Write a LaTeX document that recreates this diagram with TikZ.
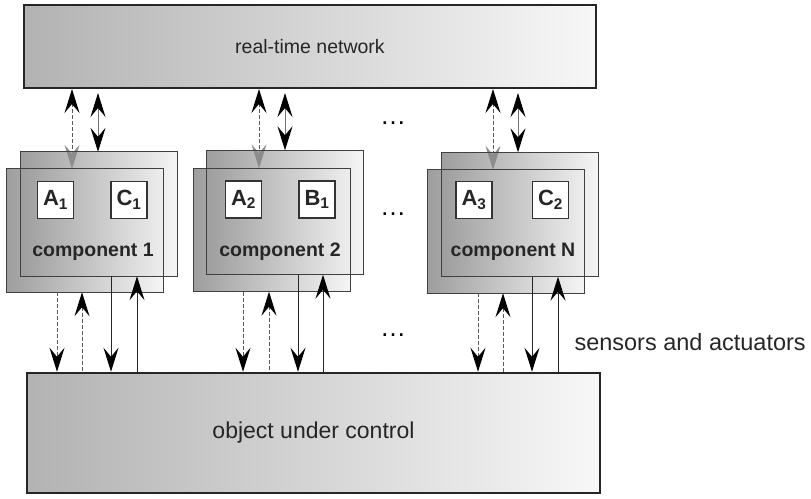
\documentclass[tikz,border=0pt]{standalone}
\usepackage{fontspec}
\setmainfont{Liberation Sans}
\usetikzlibrary{arrows.meta}

\tikzset{
	headtip/.tip={Stealth[length=24pt,width=15pt,inset=9pt,color=black]},
	greytip/.tip={Stealth[length=24pt,width=15pt,inset=9pt,color=black!45]},
	bigbox/.style={draw=black!85, line width=2pt, left color=black!30, right color=black!3, inner sep=0pt, text=black!85},
	compshade/.style={left color=black!38, right color=black!4, minimum width=156pt, minimum height=123pt, inner sep=0pt},
	compline/.style={draw=black!75, line width=1.2pt},
	funcbox/.style={draw=black!80, line width=1.2pt, fill=white, minimum width=36pt, minimum height=37pt, inner sep=0pt, font=\fontsize{22}{22}\selectfont\bfseries, text=black!85},
	comptext/.style={font=\fontsize{19.5}{20}\selectfont\bfseries, text=black!85},
	dsh/.style={dash pattern=on 4pt off 2pt, line width=1pt, black!65},
	sol/.style={line width=1pt, black!85},
}

\begin{document}
\begin{tikzpicture}[x=1pt, y=-1pt]
		\useasboundingbox (0,0) rectangle (811,498);
		\node[bigbox, minimum width=572pt, minimum height=83pt] (net) at (310,46.5) {\fontsize{19.5}{20}\selectfont real-time network};
		\node[bigbox, line width=2.5pt, minimum width=573pt, minimum height=120pt] (plant) at (313.5,433) {\fontsize{23}{24}\selectfont object under control};
		\node[anchor=west, text=black!85] (sensact) at (571,342) {\fontsize{23.5}{24}\selectfont sensors and actuators};
		%
		\path (72,0) coordinate (c1t1) (98,0) coordinate (c1t2) (57,0) coordinate (c1d1) (82,0) coordinate (c1d2) (111,0) coordinate (c1s1) (137,0) coordinate (c1s2);
		\path (259,0) coordinate (c2t1) (285,0) coordinate (c2t2) (243,0) coordinate (c2d1) (269,0) coordinate (c2d2) (298,0) coordinate (c2s1) (323,0) coordinate (c2s2);
		\path (493,0) coordinate (cnt1) (518,0) coordinate (cnt2) (478,0) coordinate (cnd1) (503,0) coordinate (cnd2) (532,0) coordinate (cns1) (558,0) coordinate (cns2);
		%
		\node[compshade] (c1b) at (85,230.5) {};
		\node[compshade] (c2b) at (272,230) {};
		\node[compshade] (cnb) at (506,231.5) {};
		\draw[dsh,headtip-] (c1t1 |- net.south) -- (c1t1 |- c1b.north);
		\draw[dsh,headtip-] (c2t1 |- net.south) -- (c2t1 |- c2b.north);
		\draw[dsh,headtip-] (cnt1 |- net.south) -- (cnt1 |- cnb.north);
		\node[compshade, minimum height=124pt] (c1a) at (99,214) {};
		\node[compshade, minimum height=124pt] (c2a) at (285,212.5) {};
		\node[compshade, minimum height=124pt] (cna) at (520,214.5) {};
		\draw[dsh, black!45, -greytip] (c1t1 |- c1a.north) -- (c1t1 |- c1b.north);
		\draw[dsh, black!45, -greytip] (c2t1 |- c2a.north) -- (c2t1 |- c2b.north);
		\draw[dsh, black!45, -greytip] (cnt1 |- cna.north) -- (cnt1 |- cnb.north);
		\draw[compline] (c1b.north west) rectangle (c1b.south east) (c1a.north west) rectangle (c1a.south east);
		\draw[compline] (c2b.north west) rectangle (c2b.south east) (c2a.north west) rectangle (c2a.south east);
		\draw[compline] (cnb.north west) rectangle (cnb.south east) (cna.north west) rectangle (cna.south east);
		%
		\node[funcbox] (fa1) at (55.5,200) {A\textsubscript{1}};
		\node[funcbox] (fc1) at (129,200) {C\textsubscript{1}};
		\node[comptext] (lab1) at (93,252) {component 1};
		\node[funcbox] (fa2) at (243.5,199.5) {A\textsubscript{2}};
		\node[funcbox] (fb1) at (317,199.5) {B\textsubscript{1}};
		\node[comptext] (lab2) at (280,252) {component 2};
		\node[funcbox] (fa3) at (474,200) {A\textsubscript{3}};
		\node[funcbox] (fc2) at (550.5,200) {C\textsubscript{2}};
		\node[comptext] (labn) at (513,252) {component N};
		%
		\draw[black!55, line width=1pt, headtip-headtip, shorten <=4pt] (c1t2 |- net.south) -- (c1t2 |- c1a.north);
		\draw[black!55, line width=1pt, headtip-headtip, shorten <=4pt] (c2t2 |- net.south) -- (c2t2 |- c2a.north);
		\draw[black!55, line width=1pt, headtip-headtip, shorten <=4pt] (cnt2 |- net.south) -- (cnt2 |- cna.north);
		%
		\draw[dsh,-headtip] (c1d1 |- c1b.south) -- (c1d1 |- plant.north);
		\draw[dsh,headtip-] (c1d2 |- c1b.south) -- (c1d2 |- plant.north);
		\draw[sol,-headtip] (c1s1 |- c1a.south) -- (c1s1 |- plant.north);
		\draw[sol,headtip-] (c1s2 |- c1a.south) -- (c1s2 |- plant.north);
		\draw[dsh,-headtip] (c2d1 |- c2b.south) -- (c2d1 |- plant.north);
		\draw[dsh,headtip-] (c2d2 |- c2b.south) -- (c2d2 |- plant.north);
		\draw[sol,-headtip] (c2s1 |- c2a.south) -- (c2s1 |- plant.north);
		\draw[sol,headtip-] (c2s2 |- c2a.south) -- (c2s2 |- plant.north);
		\draw[dsh,-headtip] (cnd1 |- cnb.south) -- (cnd1 |- plant.north);
		\draw[dsh,headtip-] (cnd2 |- cnb.south) -- (cnd2 |- plant.north);
		\draw[sol,-headtip] (cns1 |- cna.south) -- (cns1 |- plant.north);
		\draw[sol,headtip-] (cns2 |- cna.south) -- (cns2 |- plant.north);
		%
		\node (dots1) at (393,123) {\fontsize{26}{26}\selectfont\ldots};
		\node (dots2) at (393,214) {\fontsize{26}{26}\selectfont\ldots};
		\node (dots3) at (393,335) {\fontsize{26}{26}\selectfont\ldots};
		\end{tikzpicture}
\end{document}
